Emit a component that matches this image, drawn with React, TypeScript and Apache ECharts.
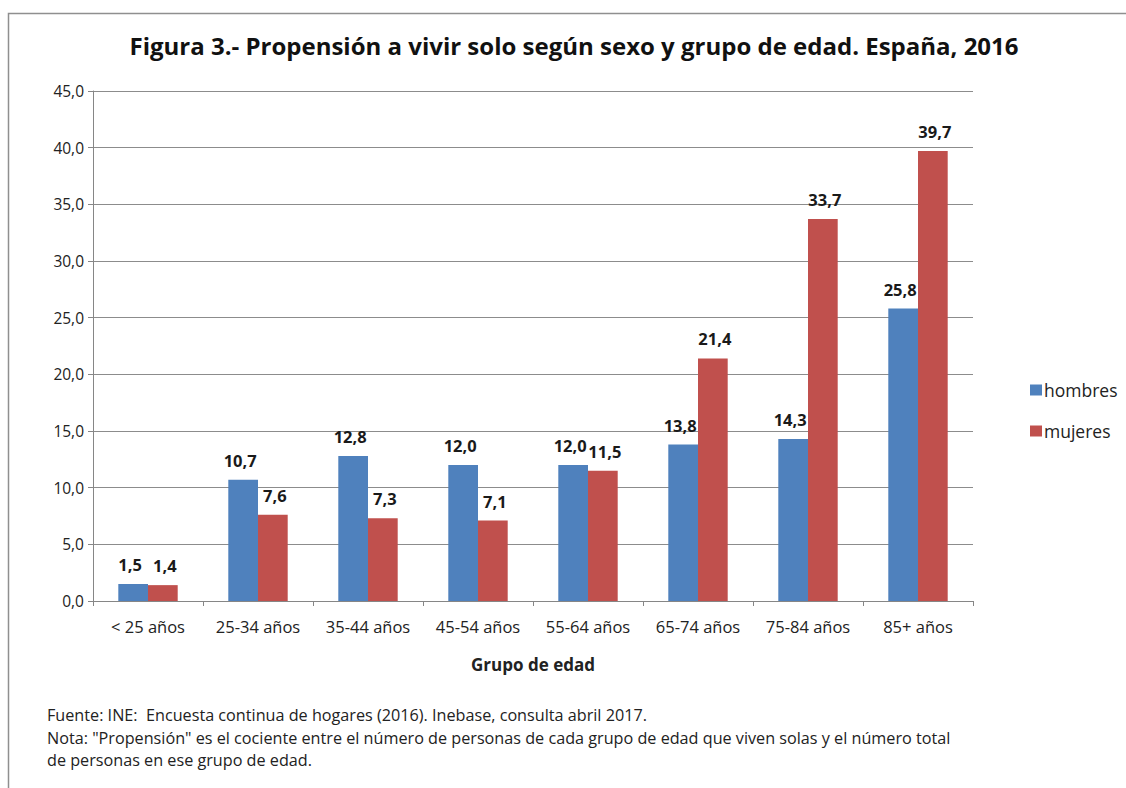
import React, { useEffect, useRef } from "react";
import * as echarts from "echarts";

const categories = ["< 25 años", "25-34 años", "35-44 años", "45-54 años", "55-64 años", "65-74 años", "75-84 años", "85+ años"];
const hombres = [1.5, 10.7, 12.8, 12.0, 12.0, 13.8, 14.3, 25.8];
const mujeres = [1.4, 7.6, 7.3, 7.1, 11.5, 21.4, 33.7, 39.7];
const titleText = "Figura 3.- Propensión a vivir solo según sexo y grupo de edad. España, 2016";
const footLines = [
  "Fuente: INE:  Encuesta continua de hogares (2016). Inebase, consulta abril 2017.",
  "Nota: \"Propensión\" es el cociente entre el número de personas de cada grupo de edad que viven solas y el número total",
  "de personas en ese grupo de edad.",
];

const fmt = (v: number) => v.toFixed(1).replace(".", ",");
const FONT = "'Open Sans', 'Noto Sans', sans-serif";

export default function App() {
  const ref = useRef<HTMLDivElement>(null);
  useEffect(() => {
    if (!ref.current) return;
    const chart = echarts.init(ref.current, null, { renderer: "svg" });
    const labelStyle = (dx: number) => ({
      show: true,
      position: "top" as const,
      distance: 11,
      offset: [dx, 0],
      fontFamily: FONT,
      fontWeight: "bold" as const,
      fontSize: 16.5,
      color: "#1a1a1a",
      formatter: (p: any) => fmt(p.value),
    });
    chart.setOption({
      animation: false,
      backgroundColor: "#ffffff",
      textStyle: { fontFamily: FONT },
      title: {
        text: titleText,
        left: 569,
        textAlign: "center",
        top: 28,
        textStyle: { fontFamily: FONT, fontWeight: "bold", fontSize: 24, color: "#111" },
      },
      legend: {
        orient: "vertical",
        left: 1025,
        top: 376,
        itemWidth: 12,
        itemHeight: 11,
        itemGap: 23,
        icon: "rect",
        textStyle: { fontFamily: FONT, fontSize: 17.5, color: "#222", padding: [0, 0, 0, -3] },
        data: ["hombres", "mujeres"],
      },
      grid: { left: 93, right: 153, top: 91, bottom: 187, containLabel: false },
      xAxis: {
        type: "category",
        data: categories,
        name: "Grupo de edad",
        nameLocation: "middle",
        nameGap: 55,
        nameTextStyle: { fontFamily: FONT, fontWeight: "bold", fontSize: 17, color: "#222" },
        axisLine: { lineStyle: { color: "#868686", width: 1 } },
        axisTick: { show: true, interval: 0, length: 5, lineStyle: { color: "#868686" } },
        axisLabel: { interval: 0, hideOverlap: false, fontFamily: FONT, fontSize: 16.5, color: "#222", margin: 17 },
      },
      yAxis: {
        type: "value",
        min: 0,
        max: 45,
        interval: 5,
        axisLine: { show: true, lineStyle: { color: "#868686", width: 1 } },
        axisTick: { show: true, length: 5, inside: false, lineStyle: { color: "#868686" } },
        splitLine: { show: true, lineStyle: { color: "#8c8c8c", width: 1 } },
        axisLabel: { fontFamily: FONT, fontSize: 15.5, color: "#222", margin: 9, formatter: (v: number) => fmt(v) },
      },
      series: [
        {
          name: "hombres",
          type: "bar",
          data: hombres,
          itemStyle: { color: "#4F81BD" },
          barGap: "0%",
          barCategoryGap: "46%",
          label: labelStyle(-3),
        },
        {
          name: "mujeres",
          type: "bar",
          data: mujeres,
          itemStyle: { color: "#C0504D" },
          label: labelStyle(2),
        },
      ],
      graphic: [
        {
          type: "rect",
          shape: { x: 8.5, y: 13.5, width: 1200, height: 900 },
          style: { fill: "none", stroke: "#8f8f8f", lineWidth: 1.5 },
          silent: true,
        },
        ...footLines.map((t, i) => ({
          type: "text",
          left: 47,
          top: 707 + i * 22.5,
          style: { text: t, fontFamily: FONT, fontSize: 16.2, fill: "#222" },
        })),
      ],
    });
    return () => chart.dispose();
  }, []);
  return <div ref={ref} style={{ position: "absolute", left: 0, top: 0, width: 1126, height: 788 }} />;
}
